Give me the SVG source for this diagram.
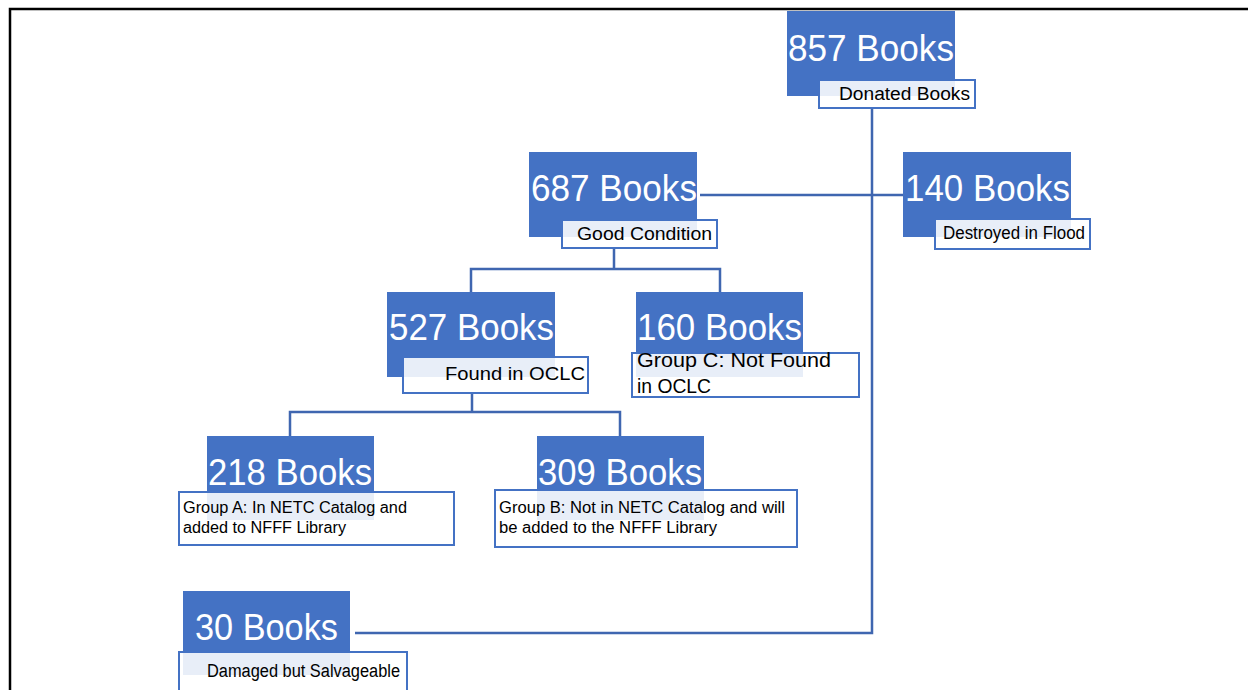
<svg xmlns="http://www.w3.org/2000/svg" width="1248" height="690" viewBox="0 0 1248 690">
<style>
.box{fill:#4472C4}
.lbl{fill:#ffffff;fill-opacity:0.88;stroke:#4472C4;stroke-width:2}
.big{font-family:"Liberation Sans",Arial,sans-serif;font-size:37px;fill:#ffffff}
.sm{font-family:"Liberation Sans",Arial,sans-serif;font-size:18px;fill:#000000}
.md{font-family:"Liberation Sans",Arial,sans-serif;font-size:20px;fill:#000000}
.xs{font-family:"Liberation Sans",Arial,sans-serif;font-size:16px;fill:#000000}
.conn{fill:none;stroke:#3F66B0;stroke-width:2.5}
</style>
<rect width="1248" height="690" fill="#ffffff"/>
<path d="M10,690 V9 H1248" fill="none" stroke="#000000" stroke-width="2.5"/>
<g id="connectors">
<path class="conn" d="M872,108 V633 H355"/>
<path class="conn" d="M700,195 H903"/>
<path class="conn" d="M614,248 V269 M471,292 V269 H720 V292"/>
<path class="conn" d="M472,393 V412 M290,436 V412 H620 V436"/>
</g>
<g id="n857">
<rect class="box" x="787" y="11" width="168" height="85"/>
<text class="big" x="788" y="61" textLength="166" lengthAdjust="spacingAndGlyphs">857 Books</text>
<rect class="lbl" x="819" y="80" width="156" height="28"/>
<text class="sm" x="839" y="100" textLength="131" lengthAdjust="spacingAndGlyphs">Donated Books</text>
</g>
<g id="n687">
<rect class="box" x="529" y="152" width="168" height="85"/>
<text class="big" x="531" y="201" textLength="166" lengthAdjust="spacingAndGlyphs">687 Books</text>
<rect class="lbl" x="562" y="220" width="155" height="28"/>
<text class="sm" x="577" y="240" textLength="135" lengthAdjust="spacingAndGlyphs">Good Condition</text>
</g>
<g id="n140">
<rect class="box" x="903" y="152" width="168" height="85"/>
<text class="big" x="905" y="201" textLength="165" lengthAdjust="spacingAndGlyphs">140 Books</text>
<rect class="lbl" x="935" y="219" width="155" height="30"/>
<text class="sm" x="943" y="239" textLength="142" lengthAdjust="spacingAndGlyphs">Destroyed in Flood</text>
</g>
<g id="n527">
<rect class="box" x="387" y="292" width="168" height="85"/>
<text class="big" x="389" y="340" textLength="165" lengthAdjust="spacingAndGlyphs">527 Books</text>
<rect class="lbl" x="403" y="357" width="185" height="36"/>
<text class="sm" x="445" y="380" textLength="140" lengthAdjust="spacingAndGlyphs">Found in OCLC</text>
</g>
<g id="n160">
<rect class="box" x="636" y="292" width="167" height="85"/>
<text class="big" x="637" y="340" textLength="165" lengthAdjust="spacingAndGlyphs">160 Books</text>
<rect class="lbl" x="632" y="353" width="227" height="44"/>
<text class="md" x="637" y="367" textLength="194" lengthAdjust="spacingAndGlyphs">Group C: Not Found</text>
<text class="md" x="637" y="393" textLength="74" lengthAdjust="spacingAndGlyphs">in OCLC</text>
</g>
<g id="n218">
<rect class="box" x="207" y="436" width="167" height="84"/>
<text class="big" x="208" y="485" textLength="164" lengthAdjust="spacingAndGlyphs">218 Books</text>
<rect class="lbl" x="179" y="492" width="275" height="53"/>
<text class="xs" x="183" y="513" textLength="224" lengthAdjust="spacingAndGlyphs">Group A: In NETC Catalog and</text>
<text class="xs" x="183" y="533" textLength="163" lengthAdjust="spacingAndGlyphs">added to NFFF Library</text>
</g>
<g id="n309">
<rect class="box" x="537" y="436" width="167" height="84"/>
<text class="big" x="538" y="485" textLength="164" lengthAdjust="spacingAndGlyphs">309 Books</text>
<rect class="lbl" x="495" y="490" width="302" height="57"/>
<text class="xs" x="499" y="513" textLength="286" lengthAdjust="spacingAndGlyphs">Group B: Not in NETC Catalog and will</text>
<text class="xs" x="499" y="533" textLength="218" lengthAdjust="spacingAndGlyphs">be added to the NFFF Library</text>
</g>
<g id="n30">
<rect class="box" x="183" y="591" width="167" height="84"/>
<text class="big" x="195" y="640" textLength="143" lengthAdjust="spacingAndGlyphs">30 Books</text>
<rect class="lbl" x="179" y="652" width="228" height="50"/>
<text class="sm" x="207" y="677" textLength="193" lengthAdjust="spacingAndGlyphs">Damaged but Salvageable</text>
</g>
</svg>
